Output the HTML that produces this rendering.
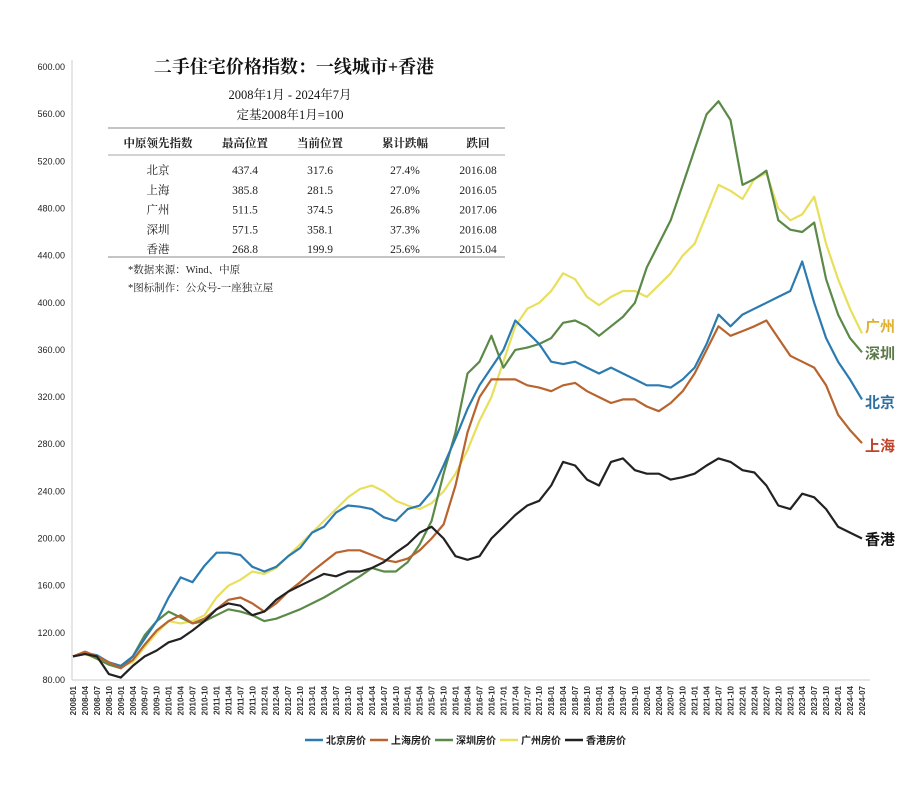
<!DOCTYPE html>
<html><head><meta charset="utf-8">
<style>
html,body{margin:0;padding:0;background:#fff;}
svg{display:block;font-family:"Liberation Sans","Noto Sans CJK SC",sans-serif;}
.serif{font-family:"Liberation Serif","Noto Serif CJK SC",serif;}
</style></head>
<body>
<svg id="chart" width="913" height="800" viewBox="0 0 913 800" xmlns="http://www.w3.org/2000/svg">
  <g class="serif" text-anchor="middle" fill="#111">
    <text x="294" y="73" font-size="18" font-weight="bold" class="serif">二手住宅价格指数：一线城市+香港</text>
    <text x="290" y="99" font-size="12.5" class="serif">2008年1月 - 2024年7月</text>
    <text x="290" y="119" font-size="12.5" class="serif">定基2008年1月=100</text>
  </g>
  <g id="table" class="serif" font-size="11.5" fill="#222" text-anchor="middle"></g>
  <g class="serif" font-size="10.5" fill="#222">
    <text x="128" y="273" class="serif">*数据来源：Wind、中原</text>
    <text x="128" y="291" class="serif">*图标制作：公众号-一座独立屋</text>
  </g>
  <g id="axes"></g>
  <g id="series"></g>
  <g id="endlabels"></g>
  <g id="legend"></g>
</svg>
<script>
const yTicks = [80,120,160,200,240,280,320,360,400,440,480,520,560,600];
const quarters = [];
for (let y = 2008; y <= 2024; y++) for (const m of ['01','04','07','10']) { if (y === 2024 && m === '10') break; quarters.push(y + '-' + m); }
const beijing = [100,103,101,95, 92,100,115,130, 150,167,163,177, 188,188,186,176, 172,176,185,192, 205,210,222,228, 227,225,218,215, 225,228,240,262, 285,310,330,345, 360,385,375,365, 350,348,350,345, 340,345,340,335, 330,330,328,335, 345,365,390,380, 390,395,400,405, 410,435,400,370, 350,335,318];
const shanghai = [100,104,100,95, 90,97,110,122, 130,135,128,132, 140,148,150,145, 138,145,155,163, 172,180,188,190, 190,186,182,180, 183,190,200,212, 245,290,320,335, 335,335,330,328, 325,330,332,325, 320,315,318,318, 312,308,315,325, 340,360,380,372, 376,380,385,370, 355,350,345,330, 305,292,281];
const shenzhen = [100,103,98,93, 90,100,118,130, 138,133,128,130, 135,140,138,135, 130,132,136,140, 145,150,156,162, 168,175,172,172, 180,195,215,255, 290,340,350,372, 345,360,362,365, 370,383,385,380, 372,380,388,400, 430,450,470,500, 530,560,571,555, 500,505,512,470, 462,460,468,420, 390,370,358];
const guangzhou = [100,102,98,93, 92,95,108,120, 130,128,130,135, 150,160,165,172, 170,175,185,195, 205,215,225,235, 242,245,240,232, 228,225,230,240, 255,275,300,320, 350,380,395,400, 410,425,420,405, 398,405,410,410, 405,415,425,440, 450,475,500,495, 488,505,510,480, 470,475,490,450, 420,395,374];
const hongkong = [100,102,100,85, 82,92,100,105, 112,115,122,130, 140,145,143,135, 138,148,155,160, 165,170,168,172, 172,175,180,188, 195,205,210,200, 185,182,185,200, 210,220,228,232, 245,265,262,250, 245,265,268,258, 255,255,250,252, 255,262,268,265, 258,256,245,228, 225,238,235,225, 210,205,200];
const seriesNames = ['北京房价','上海房价','深圳房价','广州房价','香港房价'];
const endNames = ['北京','上海','深圳','广州','香港'];
const tableHeader = ['中原领先指数','最高位置','当前位置','累计跌幅','跌回'];
const tableRows = [
  ['北京','437.4','317.6','27.4%','2016.08'],
  ['上海','385.8','281.5','27.0%','2016.05'],
  ['广州','511.5','374.5','26.8%','2017.06'],
  ['深圳','571.5','358.1','37.3%','2016.08'],
  ['香港','268.8','199.9','25.6%','2015.04']
];

const NS = 'http://www.w3.org/2000/svg';
function mk(tag, attrs, parent) { const e = document.createElementNS(NS, tag); for (const k in attrs) e.setAttribute(k, attrs[k]); parent.appendChild(e); return e; }
const X0 = 73, X1 = 862, Y0 = 680, Y1 = 67;
const xs = i => X0 + (X1 - X0) * i / (quarters.length - 1);
const ys = v => Y0 - (v - 80) / (600 - 80) * (Y0 - Y1);

// table
const tb = document.getElementById('table');
const colX = [158, 245, 320, 405, 478];
[128, 155, 257].forEach((y, k) => { const l = mk('line', {x1:108, x2:505, y1:y, y2:y, stroke:'#888', 'stroke-width': k===1?0.8:1}, tb);   });
tableHeader.forEach((h, j) => { const t = mk('text', {x: colX[j], y: 147, 'font-weight':'bold'}, tb); t.textContent = h;   });
tableRows.forEach((r, i) => r.forEach((c, j) => { const t = mk('text', {x: colX[j], y: 174 + i*19.8}, tb); t.textContent = c;   }));

// axes
const ax = document.getElementById('axes');
const yl = mk('line', {x1:X0-1, x2:X0-1, y1:60, y2:Y0, stroke:'#ccc', 'stroke-width':1}, ax);
 
const xl = mk('line', {x1:X0-1, x2:X1+8, y1:Y0, y2:Y0, stroke:'#ccc', 'stroke-width':1}, ax);
 
yTicks.forEach(v => { const t = mk('text', {x:65, y: ys(v)+3, 'text-anchor':'end', 'font-size':9, fill:'#222'}, ax); t.textContent = v.toFixed(2);   });
quarters.forEach((q, i) => { const x = xs(i) + 3; const t = mk('text', {x: x, y: 686, 'text-anchor':'end', 'font-size':8, 'font-weight':'bold', fill:'#333', transform:`rotate(-90 ${x} 686)`}, ax); t.textContent = q;   });

// series
const colors = ['#2c7bb0','#b8642e','#5b8a48','#e8df5c','#222222'];
const data = [beijing, shanghai, shenzhen, guangzhou, hongkong];
const sg = document.getElementById('series');
[3,2,0,1,4].forEach(k => {
  const d = data[k].map((v, i) => (i ? 'L' : 'M') + xs(i).toFixed(1) + ' ' + ys(v).toFixed(1)).join(' ');
  const p = mk('path', {d: d, fill:'none', stroke: colors[k], 'stroke-width': 2.2, 'stroke-linejoin':'round'}, sg);
  
  
});

// end labels
const eg = document.getElementById('endlabels');
const labelColors = ['#2c6fa0','#c0442a','#5b7a48','#e0b030','#111'];
const labelOrder = [0,1,2,3,4];
const labelOffsets = [8, 8, 6, -2, 6];
labelOrder.forEach(k => {
  const arr = data[k];
  const t = mk('text', {x: 865, y: ys(arr[arr.length-1]) + labelOffsets[k], 'font-size':15, 'font-weight':'bold', fill: labelColors[k]}, eg);
  t.textContent = endNames[k];
  
  
});

// legend
const lg = document.getElementById('legend');
let lx = 305;
seriesNames.forEach((n, k) => {
  const l = mk('line', {x1: lx, x2: lx+18, y1: 740, y2: 740, stroke: colors[k], 'stroke-width': 2.5}, lg);
   
  const t = mk('text', {x: lx+21, y: 744, 'font-size': 10, 'font-weight':'bold', fill:'#222'}, lg);
  t.textContent = n;
   
  lx += 65;
});
</script>
</body></html>
